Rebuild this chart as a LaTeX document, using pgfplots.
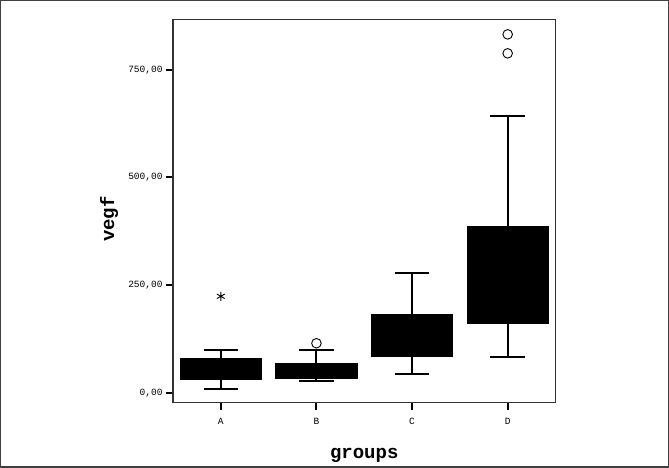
\documentclass[border=0pt]{standalone}
\usepackage{pgfplots}
\pgfplotsset{compat=1.18}
\usepgfplotslibrary{statistics}
\usepackage{fontspec}
\setmainfont{Liberation Mono}
\begin{document}
\begin{tikzpicture}[x=1pt,y=1pt]
\useasboundingbox (-173,-65.3) rectangle (496,402.7);
\draw[line width=1.5pt, black!75] (-172.25,-64.55) rectangle (495.25,401.95);
\begin{axis}[
  at={(0,0)}, anchor=south west, scale only axis,
  width=382.5pt, height=383.4pt,
  xmin=0.5, xmax=4.5, ymin=-23, ymax=867,
  xtick={1,2,3,4}, xticklabels={A,B,C,D},
  ytick={0,250,500,750}, yticklabels={{0,00},{250,00},{500,00},{750,00}},
  xtick pos=left, ytick pos=left,
  tick align=outside, major tick length=7pt,
  tick style={line width=2pt, black},
  axis line style={line width=1.5pt, black!80},
  ticklabel style={font=\fontsize{9.5}{10}\selectfont},
  xticklabel style={yshift=-5pt},
  xlabel={\bfseries groups}, ylabel={\bfseries vegf},
  label style={font=\fontsize{19}{20}\selectfont},
  xlabel style={at={(rel axis cs:0.5,0)}, anchor=center, yshift=-53pt},
  ylabel style={at={(rel axis cs:0,0.5)}, anchor=center, yshift=64pt, xshift=-8pt},
  boxplot/draw direction=y,
]
\addplot[boxplot prepared={draw position=1, lower whisker=9, lower quartile=31, median=55, upper quartile=79, upper whisker=99, box extend=0.84, whisker extend=0.36},
  draw=black, fill=black, line width=2pt, mark=asterisk, mark size=4.5pt, mark options={black, line width=0.9pt, fill=none}]
  coordinates {(0,224)};
\addplot[boxplot prepared={draw position=2, lower whisker=28, lower quartile=34, median=50, upper quartile=67, upper whisker=99, box extend=0.84, whisker extend=0.36},
  draw=black, fill=black, line width=2pt, mark=o, mark size=4.8pt, mark options={black, line width=0.9pt, fill=white}]
  coordinates {(0,115)};
\addplot[boxplot prepared={draw position=3, lower whisker=43, lower quartile=86, median=130, upper quartile=181, upper whisker=277, box extend=0.84, whisker extend=0.36},
  draw=black, fill=black, line width=2pt]
  coordinates {};
\addplot[boxplot prepared={draw position=4, lower whisker=83, lower quartile=163, median=260, upper quartile=384, upper whisker=642, box extend=0.84, whisker extend=0.36},
  draw=black, fill=black, line width=2pt, mark=o, mark size=4.8pt, mark options={black, line width=0.9pt, fill=white}]
  coordinates {(0,788) (0,832)};
\end{axis}
\end{tikzpicture}
\end{document}
